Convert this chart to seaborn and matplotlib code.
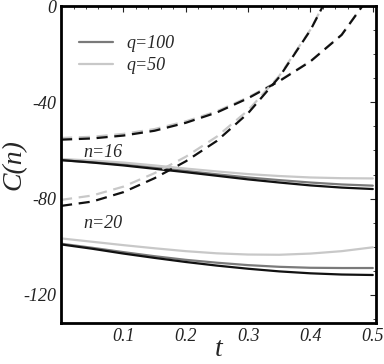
import numpy as np
import pandas as pd
import matplotlib
matplotlib.use("Agg")
import matplotlib.pyplot as plt
import seaborn as sns
from matplotlib.ticker import MultipleLocator

sns.set_theme(style="white")
plt.rcParams['font.family'] = ['Liberation Serif', 'DejaVu Serif']

t = [0.0, 0.05, 0.1, 0.15, 0.2, 0.25, 0.3, 0.35, 0.4, 0.45, 0.5]

# solid curves, n=16
n16_black = [-64.0, -65.0, -66.2, -67.6, -69.0, -70.5, -72.0, -73.3, -74.5, -75.4, -76.0]
n16_q100 = [-64.0, -64.9, -65.9, -67.2, -68.5, -69.9, -71.2, -72.3, -73.3, -74.1, -74.6]
n16_q50 = [-63.5, -64.2, -65.0, -66.2, -67.5, -68.7, -69.8, -70.6, -71.2, -71.5, -71.6]

# solid curves, n=20
n20_black = [-99.0, -100.8, -102.8, -104.6, -106.3, -107.8, -109.1, -110.2, -111.0, -111.5, -111.7]
n20_q100 = [-98.7, -100.4, -102.2, -103.9, -105.4, -106.6, -107.6, -108.3, -108.7, -108.8, -108.8]
n20_q50 = [-96.5, -97.9, -99.3, -100.6, -101.8, -102.7, -103.2, -103.3, -102.8, -101.8, -100.2]

# dashed curves
d16_black = [-55.5, -55.0, -53.8, -51.8, -48.5, -44.2, -38.3, -31.2, -23.0, -12.0, 6.0]
d16_light = [-54.8, -54.3, -53.1, -51.1, -47.9, -43.7, -37.9, -31.0, -22.9, -11.9, 6.1]
d20_black = [-83.0, -81.2, -77.3, -71.5, -64.5, -56.0, -44.5, -29.5, -10.0, 15.0, 47.0]
d20_light = [-80.5, -78.7, -75.0, -69.4, -62.6, -54.2, -43.3, -29.0, -9.8, 15.2, 47.2]

legend_labels = ["q=100", "q=50"]

black = "#111111"
gray = "#7a7a7a"
light = "#c8c8c8"

fig = plt.figure(figsize=(3.84, 3.64), dpi=100)
ax = fig.add_axes([0.159, 0.1135, 0.82, 0.87])

solid = [
    (n16_q50, light), (n16_q100, gray), (n16_black, black),
    (n20_q50, light), (n20_q100, gray), (n20_black, black),
]
for ys, c in solid:
    df = pd.DataFrame({"t": t, "C": ys})
    sns.lineplot(data=df, x="t", y="C", ax=ax, color=c, lw=1.6, legend=False)

for ys, c in [(d16_light, light), (d16_black, black), (d20_light, light), (d20_black, black)]:
    df = pd.DataFrame({"t": t, "C": ys})
    sns.lineplot(data=df, x="t", y="C", ax=ax, color=c, lw=1.6, legend=False,
                 linestyle=(0, (5, 3)))

# legend entries
ax.plot([], [], color=gray, lw=1.6, label=legend_labels[0])
ax.plot([], [], color=light, lw=1.6, label=legend_labels[1])
leg = ax.legend(loc="upper left", bbox_to_anchor=(0.005, 0.96), frameon=False,
                prop={"family": "Liberation Serif", "style": "italic", "size": 13},
                handlelength=1.9, handletextpad=0.75, labelspacing=0.3)

ax.text(0.036, -62.5, "n=16", fontsize=13, style="italic")
ax.text(0.036, -92.0, "n=20", fontsize=13, style="italic")

ax.set_xlim(0, 0.505)
ax.set_ylim(-131.5, 0)
ax.set_xticks([0.1, 0.2, 0.3, 0.4, 0.5])
ax.set_xticklabels(["0.1", "0.2", "0.3", "0.4", "0.5"])
ax.set_yticks([0, -40, -80, -120])
ax.set_yticklabels(["0", "-40", "-80", "-120"])
ax.xaxis.set_minor_locator(MultipleLocator(0.02))
ax.yaxis.set_minor_locator(MultipleLocator(10))
ax.tick_params(which="both", direction="in", top=True, right=True,
               labelsize=13, colors="#222222")
ax.tick_params(which="major", length=4, width=0.8)
ax.tick_params(which="minor", length=2, width=0.6)
for lbl in ax.get_xticklabels() + ax.get_yticklabels():
    lbl.set_fontstyle("italic")

ax.set_xlabel("t", fontsize=20, style="italic")
ax.xaxis.set_label_coords(0.5, -0.045)
ax.set_ylabel("C(n)", fontsize=20, style="italic")
ax.yaxis.set_label_coords(-0.108, 0.5)

for s in ax.spines.values():
    s.set_color("black")
    s.set_linewidth(2.0)

fig.savefig("out.png", dpi=100)
